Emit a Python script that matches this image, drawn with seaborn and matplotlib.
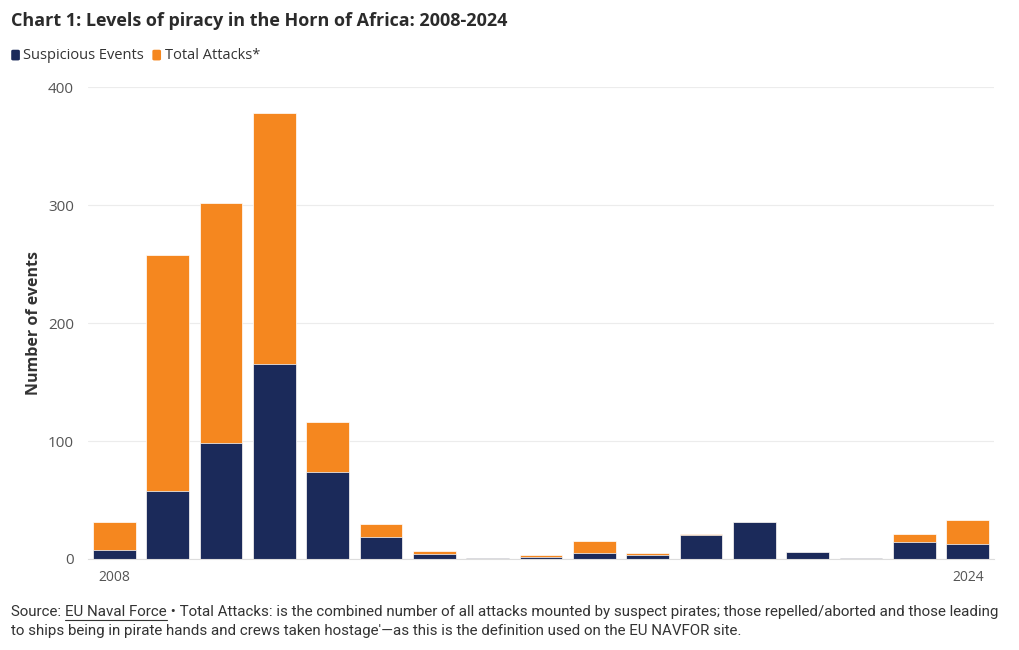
import matplotlib
matplotlib.use("Agg")
import matplotlib.pyplot as plt
import seaborn as sns
import pandas as pd
from matplotlib.patches import FancyBboxPatch
from matplotlib.lines import Line2D

years = list(range(2008, 2025))
suspicious = [8, 58, 98, 165, 74, 19, 4, 1, 2, 5, 3, 20, 31, 6, 1, 14, 13]
attacks = [23, 200, 204, 213, 42, 11, 3, 0, 1, 10, 2, 1, 0, 0, 0, 7, 20]
y_ticks = [0, 100, 200, 300, 400]
x_tick_labels = {2008: "2008", 2024: "2024"}

NAVY = "#1b2a5a"
ORANGE = "#f5871f"
TEXT = "#2b2b2b"
GREY = "#555555"

sns.set_theme(style="white")
plt.rcParams["font.family"] = ["Open Sans", "DejaVu Sans"]

df = pd.DataFrame({
    "year": [str(y) for y in years],
    "suspicious": suspicious,
    "total": [s + a for s, a in zip(suspicious, attacks)],
})

fig = plt.figure(figsize=(10.2, 6.5), dpi=100)
ax = fig.add_axes([0.086, 0.14, 0.889, 0.726])

sns.barplot(data=df, x="year", y="total", color=ORANGE, saturation=1,
            width=0.8, edgecolor="white", linewidth=0.5, ax=ax)
sns.barplot(data=df, x="year", y="suspicious", color=NAVY, saturation=1,
            width=0.8, edgecolor="white", linewidth=0.5, ax=ax)

ax.set_xlim(-0.5, len(years) - 0.5)
ax.set_ylim(0, 400)
ax.set_yticks(y_ticks)
ax.set_yticklabels([str(v) for v in y_ticks], fontsize=11, color=GREY)
ticks = [years.index(y) for y in x_tick_labels]
ax.set_xticks(ticks)
ax.set_xticklabels(list(x_tick_labels.values()), fontsize=10, color=GREY)
ax.tick_params(axis="x", length=4, color="#dddddd", pad=4)
ax.tick_params(axis="y", length=0, pad=10)
ax.set_xlabel("")
ax.set_ylabel("Number of events", fontsize=11.5, fontweight="bold", color="#333333", labelpad=4)
ax.grid(axis="y", color="#ececec", linewidth=0.8)
ax.set_axisbelow(True)
for s in ["top", "right", "left"]:
    ax.spines[s].set_visible(False)
ax.spines["bottom"].set_color("#dddddd")
ax.spines["bottom"].set_linewidth(0.8)

fig.text(0.011, 0.968, "Chart 1: Levels of piracy in the Horn of Africa: 2008-2024",
         fontsize=13, fontweight="bold", color=TEXT, va="center")

# legend
leg_y = 0.915
items = [("Suspicious Events", NAVY), ("Total Attacks*", ORANGE)]
renderer = fig.canvas.get_renderer()
x = 0.011
for label, col in items:
    box = FancyBboxPatch((x, leg_y - 0.008), 0.0085, 0.0165,
                         boxstyle="round,pad=0,rounding_size=0.002",
                         transform=fig.transFigure, facecolor=col, edgecolor="none")
    fig.patches.append(box)
    t = fig.text(x + 0.012, leg_y, label, fontsize=10.5, color="#333333", va="center")
    bb = t.get_window_extent(renderer=renderer)
    x = bb.x1 / fig.bbox.width + 0.008

# footnote
foot_font = ["Roboto", "DejaVu Sans"]
line1_rest = " \u2022 Total Attacks: is the combined number of all attacks mounted by suspect pirates; those repelled/aborted and those leading"
line2 = "to ships being in pirate hands and crews taken hostage'\u2014as this is the definition used on the EU NAVFOR site."
fy1, fy2 = 0.052, 0.023


def draw_footnote(fs):
    t1 = fig.text(0.011, fy1, "Source: ", fontsize=fs, color="#333333", va="baseline", family=foot_font)
    x1 = t1.get_window_extent(renderer=renderer).x1 / fig.bbox.width
    t2 = fig.text(x1, fy1, "EU Naval Force", fontsize=fs, color="#333333", va="baseline", family=foot_font)
    x2 = t2.get_window_extent(renderer=renderer).x1 / fig.bbox.width
    t3 = fig.text(x2, fy1, line1_rest, fontsize=fs, color="#333333", va="baseline", family=foot_font)
    t4 = fig.text(0.011, fy2, line2, fontsize=fs, color="#333333", va="baseline", family=foot_font)
    right = t3.get_window_extent(renderer=renderer).x1
    return [t1, t2, t3, t4], (x1, x2), right


fs = 10.5
arts, _, right = draw_footnote(fs)
for a in arts:
    a.remove()
fs = fs * (1003 - 11) / (right - 11)
arts, (x1, x2), right = draw_footnote(fs)
fig.add_artist(Line2D([x1, x2], [fy1 - 0.0055, fy1 - 0.0055], transform=fig.transFigure,
                      color="#333333", linewidth=0.8))

fig.savefig("out.png", dpi=100)
